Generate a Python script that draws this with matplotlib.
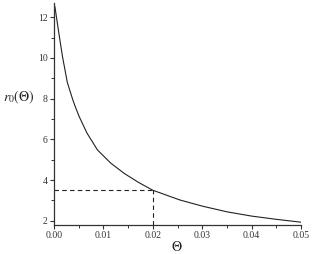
import matplotlib
matplotlib.use("Agg")
import matplotlib.pyplot as plt
from matplotlib.ticker import MultipleLocator

theta = [0.0, 0.0002, 0.001, 0.0017, 0.0027, 0.0038, 0.0044, 0.0051, 0.0067, 0.0088, 0.0115, 0.0142, 0.017, 0.02, 0.0255, 0.03, 0.035, 0.04, 0.045, 0.05]
r0 = [12.65, 12.5, 11.2, 10.1, 8.8, 7.95, 7.55, 7.12, 6.3, 5.48, 4.83, 4.33, 3.9, 3.5, 3.02, 2.72, 2.44, 2.23, 2.07, 1.93]
mark_theta = 0.02
mark_r0 = 3.5
xticks = [0.00, 0.01, 0.02, 0.03, 0.04, 0.05]
xticklabels = ["0.00", "0.01", "0.02", "0.03", "0.04", "0.05"]
yticks = [2, 4, 6, 8, 10, 12]

plt.rcParams['font.family'] = ['Liberation Serif', 'DejaVu Serif']
plt.rcParams['mathtext.fontset'] = 'stix'

fig = plt.figure(figsize=(3.12, 2.54), dpi=100)
ax = fig.add_axes([0.173, 0.114, 0.792, 0.874])
ymin, ymax = 1.79, 12.7
ax.plot(theta, r0, color='#222222', lw=0.8)
ax.plot([0, mark_theta], [mark_r0, mark_r0], color='#222222', lw=0.8, ls=(0, (4, 3)))
ax.plot([mark_theta, mark_theta], [ymin, mark_r0], color='#222222', lw=0.8, ls=(0, (4, 3)))
ax.set_xlim(0, 0.05)
ax.set_ylim(ymin, ymax)
ax.set_xticks(xticks)
ax.set_xticklabels(xticklabels)
ax.set_yticks(yticks)
ax.xaxis.set_minor_locator(MultipleLocator(0.005))
ax.yaxis.set_minor_locator(MultipleLocator(1))
for s in ['top', 'right']:
    ax.spines[s].set_visible(False)
for s in ['left', 'bottom']:
    ax.spines[s].set_linewidth(0.9)
    ax.spines[s].set_color('#333333')
ax.tick_params(which='major', length=3, width=0.8, labelsize=7, colors='#333333', pad=1.5)
ax.tick_params(which='minor', length=2, width=0.7, colors='#333333')
fig.text(0.568, 0.028, r'$\Theta$', fontsize=10, ha='center', va='center', color='#222222')
fig.text(0.01, 0.618, r'$r_0(\Theta)$', fontsize=10, ha='left', va='center', color='#222222')
fig.savefig('out.png', dpi=100)
